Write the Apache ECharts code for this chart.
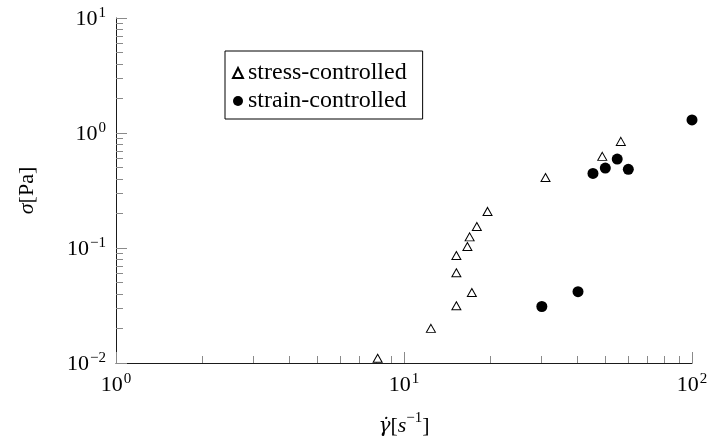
<!DOCTYPE html>
<html>
<head>
<meta charset="utf-8">
<script src="https://cdn.jsdelivr.net/npm/echarts@6/dist/echarts.min.js"></script>
<style>
  html, body { margin: 0; padding: 0; background: #fff; }
  #chart { width: 710px; height: 437px; }
</style>
</head>
<body>
<div id="chart"></div>
<script>
// Shear rate (1/s) and stress (Pa) for each measurement mode
var stressRate  = [8.1, 12.4, 15.2, 17.2, 15.2, 15.2, 16.6, 16.9, 17.9, 19.5, 31.0, 48.8, 56.6];
var stressSigma = [0.011, 0.020, 0.0315, 0.041, 0.061, 0.086, 0.103, 0.125, 0.154, 0.208, 0.41, 0.626, 0.845];
var strainRate  = [30.1, 40.2, 45.3, 50.0, 55.0, 60.1, 100];
var strainSigma = [0.031, 0.0417, 0.445, 0.496, 0.594, 0.483, 1.30];

var seriesNames = ['stress-controlled', 'strain-controlled'];

// Axis ranges (decades) and major tick values
var xRange = [1, 100];
var yRange = [0.01, 10];
var xMajor = [1, 10, 100];
var yMajor = [0.01, 0.1, 1, 10];

var FONT = 'Liberation Serif';
var AXIS_COLOR = '#1a1a1a';
var TICK_COLOR = '#8a8a8a';

function pairs(xs, ys) {
  return xs.map(function (x, i) { return [x, ys[i]]; });
}

// Minor ticks at 2..9 within each decade, placed on a linear exponent axis
function minorExponents(lo, hi) {
  var out = [];
  for (var d = Math.round(Math.log10(lo)); d < Math.round(Math.log10(hi)); d++) {
    for (var k = 2; k <= 9; k++) out.push(d + Math.log10(k));
  }
  return out;
}

function powLabel(v) {
  var e = Math.round(Math.log10(v));
  var s = e < 0 ? '\u2212' + Math.abs(e) : String(e);
  return '{b|10}{s|' + s + '}';
}

var labelRich = {
  b: { fontFamily: FONT, fontSize: 22, color: '#000', lineHeight: 24, verticalAlign: 'bottom' },
  s: { fontFamily: FONT, fontSize: 15, color: '#000', lineHeight: 24, verticalAlign: 'top', padding: [0, 0, 0, 1] }
};

var nameRich = {
  g: { fontFamily: 'DejaVu Serif', fontSize: 20, fontStyle: 'italic', color: '#000', lineHeight: 26, verticalAlign: 'bottom' },
  i: { fontFamily: FONT, fontSize: 22, fontStyle: 'italic', color: '#000', lineHeight: 26, verticalAlign: 'bottom' },
  r: { fontFamily: FONT, fontSize: 22, color: '#000', lineHeight: 26, verticalAlign: 'bottom' },
  sup: { fontFamily: FONT, fontSize: 15, color: '#000', lineHeight: 26, verticalAlign: 'top' }
};

var grid = { left: 116, right: 18, top: 18, bottom: 74, containLabel: false, outerBoundsMode: 'none' };

var chart = echarts.init(document.getElementById('chart'), null, { renderer: 'canvas' });

chart.setOption({
  animation: false,
  backgroundColor: '#fff',
  grid: grid,
  legend: {
    orient: 'vertical',
    left: 225,
    top: 51,
    data: seriesNames,
    itemWidth: 10,
    itemHeight: 10,
    itemGap: 4,
    padding: [10, 16, 6, 7],
    borderColor: '#000',
    borderWidth: 1,
    textStyle: { fontFamily: FONT, fontSize: 24, color: '#000' }
  },
  xAxis: [
    {
      type: 'log', logBase: 10, min: xRange[0], max: xRange[1],
      position: 'bottom',
      axisLine: { onZero: false, lineStyle: { color: AXIS_COLOR, width: 1 } },
      axisTick: { inside: true, length: 11, lineStyle: { color: TICK_COLOR }, customValues: xMajor },
      axisLabel: { margin: 9, formatter: powLabel, rich: labelRich, customValues: xMajor },
      splitLine: { show: false },
      name: '{g|\u03B3\u0307}{r|[}{i|s}{sup|\u22121}{r|]}',
      nameLocation: 'middle',
      nameGap: 48,
      nameTextStyle: { rich: nameRich }
    },
    {
      type: 'value', min: 0, max: 2, position: 'bottom',
      axisLine: { show: false, onZero: false },
      axisTick: { inside: true, length: 7, lineStyle: { color: TICK_COLOR }, customValues: minorExponents(xRange[0], xRange[1]) },
      axisLabel: { show: false },
      splitLine: { show: false }
    }
  ],
  yAxis: [
    {
      type: 'log', logBase: 10, min: yRange[0], max: yRange[1],
      position: 'left',
      axisLine: { show: true, onZero: false, lineStyle: { color: AXIS_COLOR, width: 1 } },
      axisTick: { show: true, inside: true, length: 11, lineStyle: { color: TICK_COLOR }, customValues: yMajor },
      axisLabel: { margin: 10, formatter: powLabel, rich: labelRich, customValues: yMajor },
      splitLine: { show: false },
      name: '{i|\u03C3}{r|[Pa]}',
      nameLocation: 'middle',
      nameGap: 78,
      nameTextStyle: { rich: nameRich }
    },
    {
      type: 'value', min: -2, max: 1, position: 'left',
      axisLine: { show: false, onZero: false },
      axisTick: { show: true, inside: true, length: 7, lineStyle: { color: TICK_COLOR }, customValues: minorExponents(yRange[0], yRange[1]) },
      axisLabel: { show: false },
      splitLine: { show: false }
    }
  ],
  series: [
    {
      name: seriesNames[0],
      type: 'scatter',
      xAxisIndex: 0, yAxisIndex: 0,
      symbol: 'triangle',
      symbolSize: [9, 8],
      itemStyle: { color: '#fff', borderColor: '#000', borderWidth: 1, opacity: 1 },
      data: pairs(stressRate, stressSigma),
      z: 3
    },
    {
      name: seriesNames[1],
      type: 'scatter',
      xAxisIndex: 0, yAxisIndex: 0,
      symbol: 'circle',
      symbolSize: 11,
      itemStyle: { color: '#000', borderColor: '#000', borderWidth: 0, opacity: 1 },
      data: pairs(strainRate, strainSigma),
      z: 4
    }
  ]
});
</script>
</body>
</html>
